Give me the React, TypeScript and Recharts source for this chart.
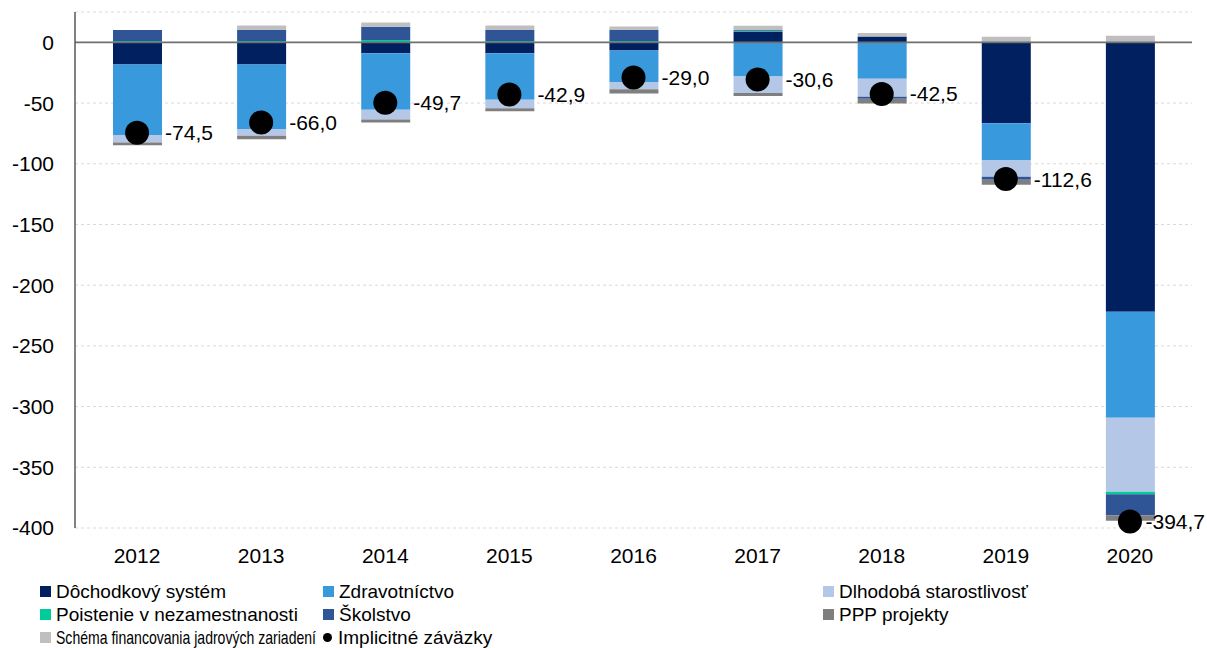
import React from 'react';
import { ComposedChart, Bar, Line, XAxis, YAxis, CartesianGrid, ReferenceLine, LabelList } from 'recharts';

const years = ['2012', '2013', '2014', '2015', '2016', '2017', '2018', '2019', '2020'];

// bn EUR
const dochodkovy = [-18.3, -18.3, -9.0, -9.0, -6.8, 9.0, 4.9, -66.7, -221.8];
const zdravotnictvo = [-58.0, -53.1, -46.6, -38.3, -25.8, -28.1, -29.9, -30.1, -87.4];
const dlhodoba = [-6.2, -5.5, -7.9, -7.0, -6.0, -13.6, -15.0, -13.9, -60.9];
const poistenie = [1.1, 1.1, 1.9, 1.1, 1.1, 0.6, 0.0, 0.0, -2.2];
const skolstvo = [9.1, 9.0, 10.9, 9.0, 9.0, 0.5, -1.6, -2.5, -17.2];
const ppp = [-2.2, -3.0, -2.5, -2.5, -3.5, -2.5, -3.8, -4.1, -4.6];
const schema = [0.0, 3.8, 3.5, 3.8, 3.0, 3.5, 2.8, 4.7, 5.5];
const implicitne = [-74.5, -66.0, -49.7, -42.9, -29.0, -30.6, -42.5, -112.6, -394.7];

const yTicks = [0, -50, -100, -150, -200, -250, -300, -350, -400];

const series = [
    { key: 'dochodkovy', name: 'Dôchodkový systém', color: '#002060' },
    { key: 'zdravotnictvo', name: 'Zdravotníctvo', color: '#389ADC' },
    { key: 'dlhodoba', name: 'Dlhodobá starostlivosť', color: '#B4C7E7' },
    { key: 'poistenie', name: 'Poistenie v nezamestnanosti', color: '#00CC99' },
    { key: 'skolstvo', name: 'Školstvo', color: '#2F5597' },
    { key: 'ppp', name: 'PPP projekty', color: '#7F7F7F' },
    { key: 'schema', name: 'Schéma financovania jadrových zariadení', color: '#BFBFBF' },
];

const data = years.map((year, i) => ({
    year,
    dochodkovy: dochodkovy[i],
    zdravotnictvo: zdravotnictvo[i],
    dlhodoba: dlhodoba[i],
    poistenie: poistenie[i],
    skolstvo: skolstvo[i],
    ppp: ppp[i],
    schema: schema[i],
    implicitne: implicitne[i],
}));

const FONT = '"Liberation Sans", Arial, sans-serif';
const W = 1207;

const fmt = (v: number) => v.toFixed(1).replace('.', ',');

let ctx: CanvasRenderingContext2D | null = null;
const textWidth = (text: string, size: number) => {
    if (!ctx) ctx = document.createElement('canvas').getContext('2d');
    if (!ctx) return text.length * size * 0.5;
    ctx.font = `${size}px ${FONT}`;
    return ctx.measureText(text).width;
};

// marker x of each legend column, and the room its text has
const legendCols = [40, 323, 823];
const legendRoom = [260, 478, 368];
const LEGEND_SIZE = 19;

export default function App() {
    const legendItems = [
        ...series.map((s) => ({ name: s.name, color: s.color, dot: false })),
        { name: 'Implicitné záväzky', color: '#000', dot: true },
    ];

    return (
        <div style={{ position: 'absolute', left: 0, top: 0, width: W, height: 648, background: '#fff', fontFamily: FONT }}>
            <ComposedChart
                width={W}
                height={578}
                data={data}
                stackOffset="sign"
                margin={{ top: 12, right: 15, left: 0, bottom: 0 }}
                style={{ fontFamily: FONT }}
            >
                <CartesianGrid vertical={false} strokeDasharray="3 3" stroke="#d9d9d9" />
                <XAxis
                    dataKey="year"
                    axisLine={false}
                    tickLine={false}
                    tickSize={0}
                    tickMargin={20}
                    height={50}
                    tick={{ fill: '#000', fontSize: 21, fontFamily: FONT }}
                />
                <YAxis
                    width={75}
                    domain={[-400, 25]}
                    ticks={yTicks}
                    tickLine={false}
                    tickSize={0}
                    tickMargin={21}
                    axisLine={{ stroke: '#595959', strokeWidth: 1.5 }}
                    tick={{ fill: '#000', fontSize: 21, fontFamily: FONT }}
                />
                {series.map((s) => (
                    <Bar
                        key={s.key}
                        dataKey={s.key}
                        name={s.name}
                        stackId="a"
                        fill={s.color}
                        barSize={49}
                        isAnimationActive={false}
                    />
                ))}
                <ReferenceLine y={0} stroke="#707070" strokeWidth={1.7} />
                <Line
                    dataKey="implicitne"
                    name="Implicitné záväzky"
                    stroke="none"
                    dot={{ r: 12, fill: '#000', stroke: 'none' }}
                    activeDot={false}
                    isAnimationActive={false}
                >
                    <LabelList
                        dataKey="implicitne"
                        content={(p: any) => {
                            const label = fmt(p.value);
                            const w = textWidth(label, 21);
                            // keep the last label inside the picture
                            const x = Math.min(p.x + 28, W - 2 - w);
                            return (
                                <text
                                    x={x}
                                    y={p.y}
                                    dominantBaseline="central"
                                    fontSize={21}
                                    fontFamily={FONT}
                                    fill="#000"
                                >
                                    {label}
                                </text>
                            );
                        }}
                    />
                </Line>
            </ComposedChart>

            {legendItems.map((it, i) => {
                const col = i % 3;
                const w = textWidth(it.name, LEGEND_SIZE);
                const sx = Math.min(1, legendRoom[col] / w);
                return (
                    <div
                        key={it.name}
                        style={{
                            position: 'absolute',
                            left: legendCols[col],
                            top: 580 + Math.floor(i / 3) * 23,
                            height: 23,
                            display: 'flex',
                            alignItems: 'center',
                            fontSize: LEGEND_SIZE,
                            lineHeight: '23px',
                            color: '#000',
                            whiteSpace: 'nowrap',
                        }}
                    >
                        <span
                            style={{
                                display: 'inline-block',
                                width: it.dot ? 9 : 11,
                                height: it.dot ? 9 : 11,
                                borderRadius: it.dot ? '50%' : 0,
                                background: it.color,
                                marginRight: it.dot ? 6 : 5,
                            }}
                        />
                        <span style={{ display: 'inline-block', transform: `scaleX(${sx})`, transformOrigin: 'left center' }}>
                            {it.name}
                        </span>
                    </div>
                );
            })}
        </div>
    );
}
